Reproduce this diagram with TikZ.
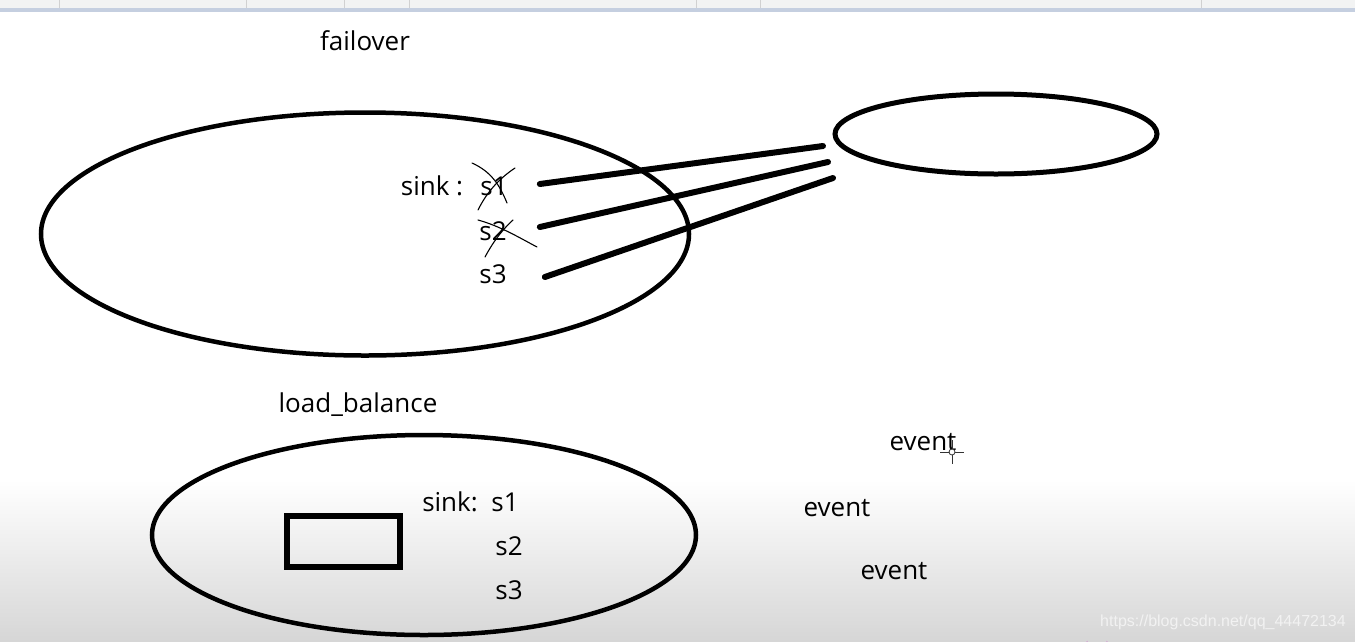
\documentclass[tikz,border=0pt]{standalone}
\usepackage{fontspec}
\setmainfont{Open Sans}
\newfontfamily\urlfont{Liberation Sans}
\usetikzlibrary{shapes.geometric}
\definecolor{barcol}{HTML}{F2F3F3}
\definecolor{stripcol}{HTML}{C5CFE0}
\tikzstyle{txt} = [
    inner sep=0pt,
    font=\fontsize{26}{30}\selectfont
]
\tikzstyle{oval} = [
    ellipse,
    inner sep=0pt,
    line width=4.5pt,
    draw=black
]
\tikzstyle{wire} = [line width=6pt, line cap=round]
\tikzstyle{scratch} = [line width=1.1pt, line cap=round]

\begin{document}
\begin{tikzpicture}[x=1pt, y=-1pt]

\useasboundingbox (0,0) rectangle (1355,641);
\fill [white] (0,0) rectangle (1355,641);
\shade [top color=white, bottom color=black!16] (0,480) rectangle (1355,641);

% window bar
\fill [barcol] (0,0) rectangle (1355,8);
\fill [stripcol] (0,8) rectangle (1355,12);
\foreach \x in {59,246,344,409,696,760,1201}
    \draw [black!18] (\x,0) -- (\x,8);

% failover
\node (failover) [txt] at (365,41) {failover};
\node (outer) [oval, minimum width=648, minimum height=243] at (365,234) {};
\node (target) [oval, line width=5pt, minimum width=322, minimum height=80] at (996,134) {};

\node (sinkA) [txt] at (432,186) {sink :};
\node (s1) [txt] at (494,186) {s1};
\node (s2) [txt] at (493,231) {s2};
\node (s3) [txt] at (493,274) {s3};

\coordinate (t1) at (823,146);
\coordinate (t2) at (828,162);
\coordinate (t3) at (833,178);

\draw [wire] (s1.east) ++(32,-2) -- (t1);
\draw [wire] (s2.east) ++(33,-4) -- (t2);
\draw [wire] (s3.east) ++(38,3) -- (t3);

% crossed out
\draw [scratch] (472,163) .. controls (492,172) and (500,186) .. (507,203);
\draw [scratch] (515,168) .. controls (497,180) and (486,194) .. (478,210);
\draw [scratch] (478,220) .. controls (500,226) and (520,238) .. (537,247);
\draw [scratch] (513,220) .. controls (500,232) and (492,244) .. (485,257);

% load balance
\node (balance) [txt] at (358,405) {load\_balance};
\node (inner) [oval, minimum width=544, minimum height=200] at (424,535) {};
\node (box) [draw, line width=5.5pt, minimum width=113, minimum height=51] at (343.5,541.5) {};

\node (sinkB) [txt] at (450,502) {sink:};
\node (b1) [txt] at (505,502) {s1};
\node (b2) [txt] at (509,546) {s2};
\node (b3) [txt] at (509,590) {s3};

\node (ev1) [txt] at (923,442) {event};
\node (ev2) [txt] at (837,508) {event};
\node (ev3) [txt] at (894,571) {event};

% cursor
\draw [black!80, line width=0.8pt] (940,452) -- (964,452);
\draw [black!80, line width=0.8pt] (952,440) -- (952,464);
\draw [black!80, fill=white, line width=0.8pt] (952,452) circle (3);

\node (mark) [inner sep=0pt, font=\urlfont\fontsize{16}{19}\selectfont, text=white!95!black] at (1223,622) {https://blog.csdn.net/qq\_44472134};
\draw [violet!35, line width=1.2pt] (1087,641) arc (180:0:10);

\end{tikzpicture}
\end{document}
